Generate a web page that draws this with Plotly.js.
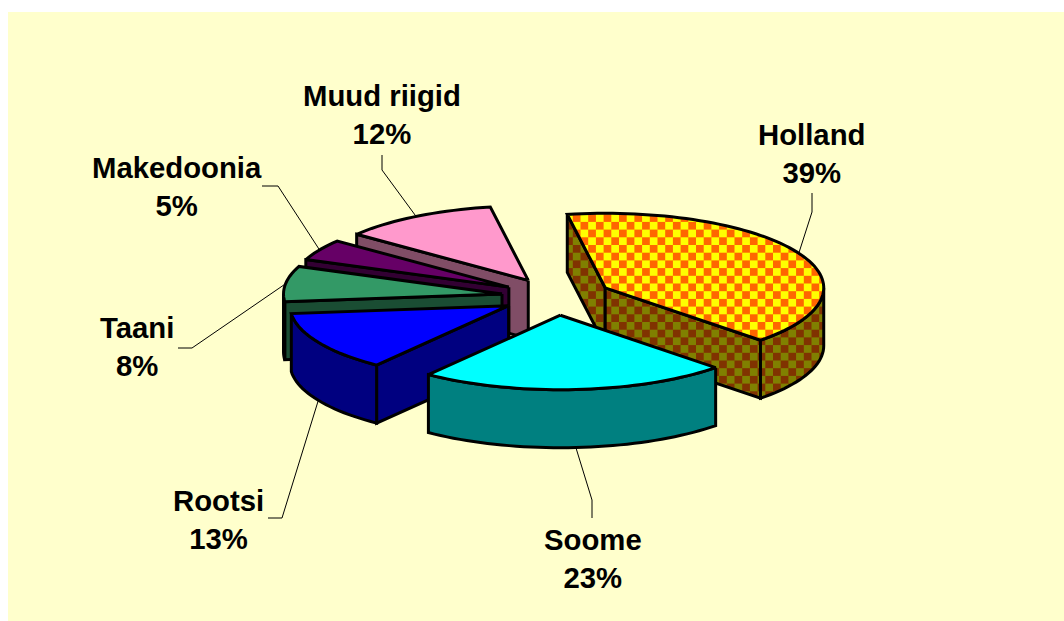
<!DOCTYPE html>
<html>
<head>
<meta charset="utf-8">
<script src="https://cdn.plot.ly/plotly-3.0.1.min.js"></script>
<style>html,body{margin:0;padding:0;background:#fff}#chart{width:1064px;height:621px}</style>
</head>
<body>
<div id="chart"></div>
<script>
const categories = ['Holland', 'Soome', 'Rootsi', 'Taani', 'Makedoonia', 'Muud riigid'];
const values = [40.2, 22.9, 13.0, 7.7, 4.6, 11.6];
const percentLabels = ['39%', '23%', '13%', '8%', '5%', '12%'];
const topColors = ['#FFFF00', '#00FFFF', '#0000FF', '#339966', '#660066', '#FF99CC'];
const sideColors = ['#808000', '#008080', '#000080', '#1A4D33', '#330033', '#804D66'];
const patternFg = { top: '#FF6600', side: '#803300' };
// painter's order, back to front
const drawOrder = [5, 4, 3, 2, 0, 1];
// label centres and leader-line elbows (axis units)
const labelX = [811, 593, 218, 137, 177, 382];
const labelY = [153, 558, 519, 346, 186, 114];
const elbowAX = [812, 592, 282, 192, 278, 382];
const elbowAY = [212, 500, 518, 348, 186, 170];
const elbowBX = [812, 592, 268, 178, 262, 382];
const elbowBY = [193, 518, 518, 348, 186, 155];

// Pie geometry
const cx = 556.5, cy = 296.5, rx = 218.5, ry = 74.5, depth = 58, explode = 55, startDeg = -10;
const checkerSize = 15.4;
const rad = d => d * Math.PI / 180;
const total = values.reduce((a, b) => a + b, 0);
let acc = startDeg;
const slices = values.map(v => { const s = acc; acc += v / total * 360; return { s, e: acc, m: (s + acc) / 2 }; });
const apex = sl => [cx + explode * Math.sin(rad(sl.m)), cy - explode * ry / rx * Math.cos(rad(sl.m))];
const rim = (sl, d) => { const a = apex(sl); return [a[0] + rx * Math.sin(rad(d)), a[1] - ry * Math.cos(rad(d))]; };
const arc = (sl, a, b) => { const n = Math.max(2, Math.ceil(Math.abs(b - a) / 2)); const out = []; for (let i = 0; i <= n; i++) out.push(rim(sl, a + (b - a) * i / n)); return out; };

function poly(pts, color, fg) {
  const t = {
    type: 'scatter', mode: 'lines', x: pts.map(p => p[0]), y: pts.map(p => p[1]),
    fill: 'toself', fillcolor: color, line: { color: '#000', width: 3, simplify: false, shape: 'linear' },
    hoverinfo: 'skip', showlegend: false
  };
  if (fg) t.fillpattern = { shape: '.', fgcolor: fg, bgcolor: color, size: checkerSize, solidity: 0.5, fillmode: 'replace' };
  return t;
}
const down = pts => pts.map(p => [p[0], p[1] + depth]);
const close = pts => pts.concat([pts[0]]);

const traces = [];
drawOrder.forEach(i => {
  const sl = slices[i], a = apex(sl);
  const fgS = i === 0 ? patternFg.side : null, fgT = i === 0 ? patternFg.top : null;
  if (-Math.sin(rad(sl.s)) > 0) { const p = rim(sl, sl.s); traces.push(poly(close([a, p, [p[0], p[1] + depth], [a[0], a[1] + depth]]), sideColors[i], fgS)); }
  if (Math.sin(rad(sl.e)) > 0) { const p = rim(sl, sl.e); traces.push(poly(close([a, p, [p[0], p[1] + depth], [a[0], a[1] + depth]]), sideColors[i], fgS)); }
  const w0 = Math.max(sl.s, 90), w1 = Math.min(sl.e, 270);
  if (w1 > w0) { const up = arc(sl, w0, w1); traces.push(poly(close(up.concat(down(up).reverse())), sideColors[i], fgS)); }
  traces.push(poly(close([a].concat(arc(sl, sl.s, sl.e))), topColors[i], fgT));
});
// Leader lines
categories.forEach((c, i) => {
  const sl = slices[i];
  let p = rim(sl, sl.m);
  if (sl.m > 90 && sl.m < 270) p = [p[0], p[1] + depth];
  traces.push({
    type: 'scatter', mode: 'lines', x: [p[0], elbowAX[i], elbowBX[i]], y: [p[1], elbowAY[i], elbowBY[i]],
    line: { color: '#000', width: 1 }, hoverinfo: 'skip', showlegend: false
  });
});
const annotations = categories.map((c, i) => ({
  xref: 'x', yref: 'y', x: labelX[i], y: labelY[i], showarrow: false, align: 'center',
  text: c + '<br>' + percentLabels[i],
  font: { family: '"Liberation Sans", Arial, sans-serif', size: 29.3, color: '#000', weight: 700 }
}));
const layout = {
  width: 1064, height: 621, margin: { l: 8, t: 12, r: 0, b: 0 },
  paper_bgcolor: '#FFFFFF', plot_bgcolor: '#FFFFCC', showlegend: false,
  xaxis: { range: [8, 1064], visible: false, fixedrange: true },
  yaxis: { range: [621, 12], visible: false, fixedrange: true },
  annotations, hovermode: false
};
// Plotly has dot and line fill patterns only: turn its dot tile into a checker tile
function checker() {
  document.querySelectorAll('#chart defs pattern').forEach(p => {
    const r = p.querySelector('rect'), c = p.querySelector('circle');
    if (!c) return;
    const fg = c.getAttribute('fill') || c.style.fill;
    const bg = r ? (r.getAttribute('fill') || r.style.fill) : 'none';
    const size = checkerSize;
    p.innerHTML = '';
    p.setAttribute('width', size);
    p.setAttribute('height', size);
    p.setAttribute('patternUnits', 'userSpaceOnUse');
    p.removeAttribute('viewBox');
    p.setAttribute('patternTransform', 'translate(2.7 9.7)');
    const NS = 'http://www.w3.org/2000/svg';
    const add = (x, y, w, col) => { const e = document.createElementNS(NS, 'rect'); e.setAttribute('x', x); e.setAttribute('y', y); e.setAttribute('width', w); e.setAttribute('height', w); e.setAttribute('fill', col); p.appendChild(e); };
    add(0, 0, size, bg); add(0, 0, size / 2, fg); add(size / 2, size / 2, size / 2, fg);
  });
}
Plotly.newPlot('chart', traces, layout, { displayModeBar: false, staticPlot: true }).then(checker);
</script>
</body>
</html>
